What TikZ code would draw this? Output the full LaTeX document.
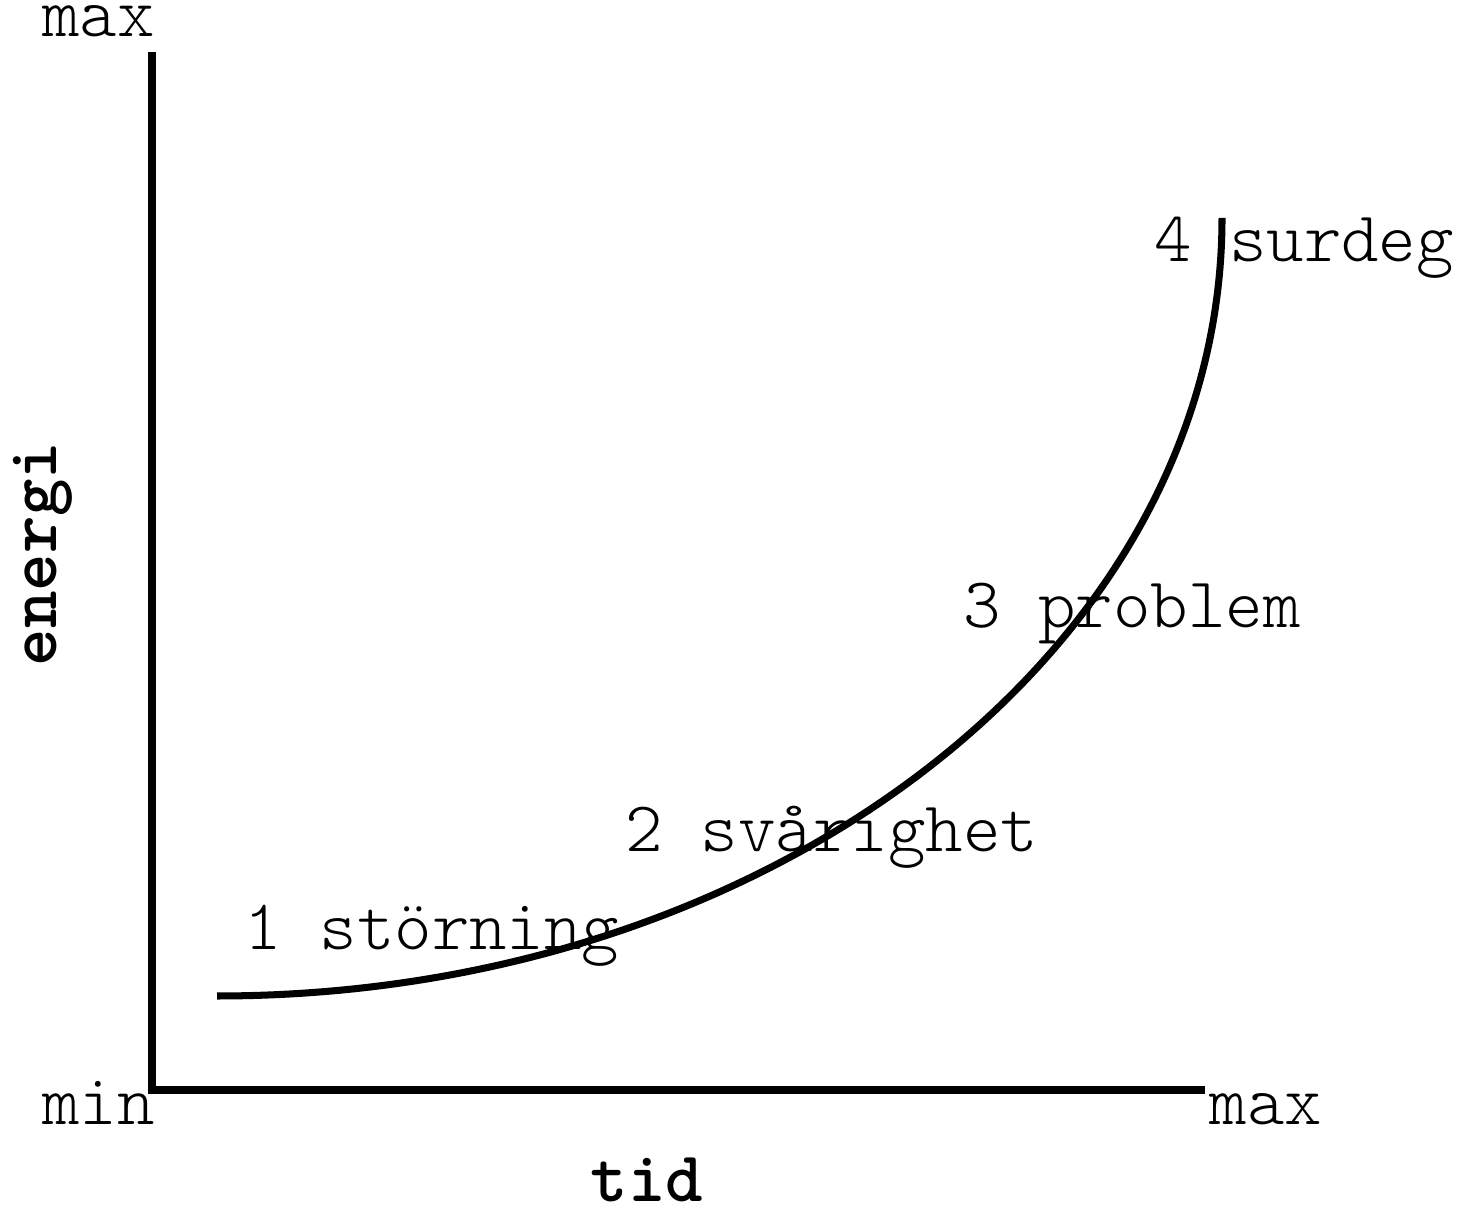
\documentclass[tikz,border=0pt]{standalone}
\usepackage{fontspec}
\setmonofont{Latin Modern Mono Light}
\begin{document}
\begin{tikzpicture}[
  lbl/.style={font=\ttfamily\fontsize{20.3}{22}\selectfont, inner sep=0pt, anchor=base},
  blbl/.style={font=\ttfamily\bfseries\fontsize{20.3}{22}\selectfont, inner sep=0pt},
  axisline/.style={line width=2pt, line cap=butt, line join=miter},
  curveline/.style={line width=2pt}
]
\useasboundingbox (0,0) rectangle (14.61,12.13);
% axes
\coordinate (ytop) at (1.52,11.61);
\coordinate (origin) at (1.52,1.23);
\coordinate (xend) at (12.05,1.23);
\draw[axisline] (ytop) -- (origin) -- (xend);
% curve (quarter ellipse)
\coordinate (cstart) at (2.17,2.17);
\draw[curveline] (cstart) arc[start angle=-90, end angle=0, x radius=10.05, y radius=7.78] coordinate (cend);
% axis labels
\node[lbl] (ymax) at (0.985,11.76) {max};
\node[lbl] (xmin) at (0.985,0.88) {min};
\node[lbl] (xmax) at (12.66,0.88) {max};
\node[blbl, anchor=base] (tid) at (6.47,0.11) {tid};
\node[blbl, rotate=90, anchor=base] (energi) at (0.56,6.59) {energi};
% stage labels
\node[lbl] (s1) at (4.32,2.63) {1 störning};
\node[lbl] (s2) at (8.32,3.61) {2 svårighet};
\node[lbl] (s3) at (11.32,5.85) {3 problem};
\node[lbl] (s4) at (13.04,9.51) {4 surdeg};
\end{tikzpicture}
\end{document}
